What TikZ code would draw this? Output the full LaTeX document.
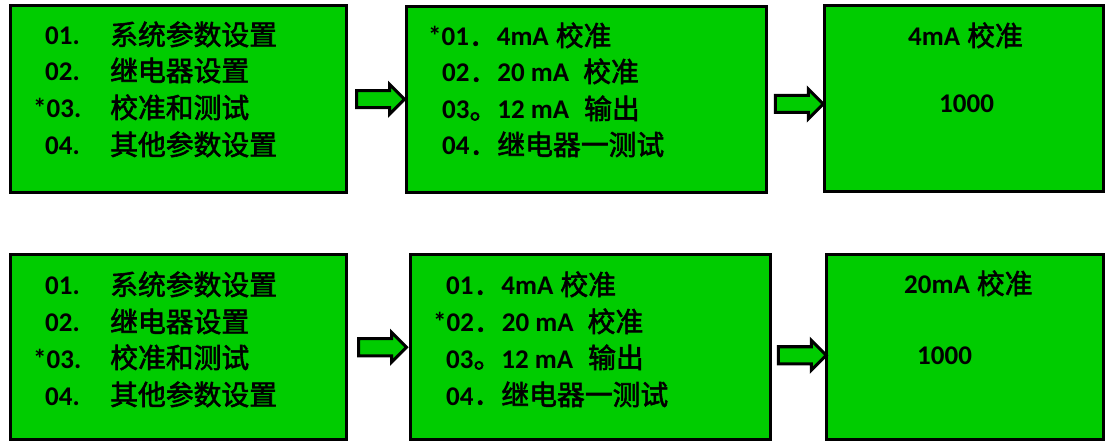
\documentclass[tikz,border=0pt]{standalone}
\usepackage{fontspec}
\setmainfont{Carlito}
\newfontfamily\cjk[FakeBold=2,Scale=1.03]{Noto Sans CJK SC}
\usetikzlibrary{shapes.arrows}
\definecolor{lcd}{RGB}{0,204,0}
\newcommand{\zh}[1]{{\cjk\mdseries #1}}

\begin{document}
\begin{tikzpicture}[x=1pt,y=-1pt,
  panel/.style={draw=black, fill=lcd, line width=3pt, inner sep=0},
  pipe/.style={single arrow, draw=black, fill=lcd, line width=3pt, inner xsep=0, inner ysep=7pt,
    single arrow head extend=6.5pt, minimum height=48pt},
  txt/.style={anchor=base west, inner sep=0, font=\fontsize{27}{30}\selectfont\bfseries}]
\useasboundingbox (0,0) rectangle (1105,443);

            % Top row
            \node[panel, minimum width=336pt, minimum height=187pt] (m1) at (178,99) {};
            \node[panel, minimum width=359.5pt, minimum height=186pt] (m2) at (586.25,99.5) {};
            \node[panel, minimum width=279.5pt, minimum height=186pt] (m3) at (963.75,98.5) {};

            \node[txt] (n11) at (45,45) {01.};
            \node[txt] (n12) at (45,81) {02.};
            \node[txt] (n13) at (33,118) {*03.};
            \node[txt] (n14) at (45,155) {04.};
            \node[txt] (c11) at (110,45) {\zh{系统参数设置}};
            \node[txt] (c12) at (110,81) {\zh{继电器设置}};
            \node[txt] (c13) at (110,118) {\zh{校准和测试}};
            \node[txt] (c14) at (110,155) {\zh{其他参数设置}};

            \node[txt] (s11) at (428,46) {*01\zh{．}4mA\hspace{7pt}\zh{校准}};
            \node[txt] (s12) at (442,82) {02\zh{．}20 mA\hspace{14pt}\zh{校准}};
            \node[txt] (s13) at (442,119) {03\zh{。}12 mA\hspace{15pt}\zh{输出}};
            \node[txt] (s14) at (442,155) {04\zh{．}\zh{继电器一测试}};

            \node[txt] (h1) at (908,46) {4mA\hspace{7pt}\zh{校准}};
            \node[txt] (v1) at (939,113) {1000};

            % Bottom row
            \node[panel, minimum width=336.5pt, minimum height=184.5pt] (m4) at (178.25,347.25) {};
            \node[panel, minimum width=360pt, minimum height=184.5pt] (m5) at (590,347.25) {};
            \node[panel, minimum width=277.5pt, minimum height=184.5pt] (m6) at (964.75,347.25) {};

            \node[txt] (n21) at (45,295) {01.};
            \node[txt] (n22) at (45,332) {02.};
            \node[txt] (n23) at (33,368) {*03.};
            \node[txt] (n24) at (45,405) {04.};
            \node[txt] (c21) at (110,295) {\zh{系统参数设置}};
            \node[txt] (c22) at (110,332) {\zh{继电器设置}};
            \node[txt] (c23) at (110,368) {\zh{校准和测试}};
            \node[txt] (c24) at (110,405) {\zh{其他参数设置}};

            \node[txt] (s21) at (446,295) {01\zh{．}4mA\hspace{7pt}\zh{校准}};
            \node[txt] (s22) at (433,332) {*02\zh{．}20 mA\hspace{14pt}\zh{校准}};
            \node[txt] (s23) at (446,368) {03\zh{。}12 mA\hspace{15pt}\zh{输出}};
            \node[txt] (s24) at (446,405) {04\zh{．}\zh{继电器一测试}};

            \node[txt] (h2) at (904,294) {20mA\hspace{7pt}\zh{校准}};
            \node[txt] (v2) at (917,364) {1000};

            % Arrows
            \path (m1.east) -- node[pipe] (a1) {} (m2.west);
            \path (m2.east) -- node[pipe, yshift=-5pt] (a2) {} (m3.west);
            \path (m4.east) -- node[pipe] (a3) {} (m5.west);
            \path (m5.east) -- node[pipe, yshift=-8pt] (a4) {} (m6.west);

\end{tikzpicture}
\end{document}
